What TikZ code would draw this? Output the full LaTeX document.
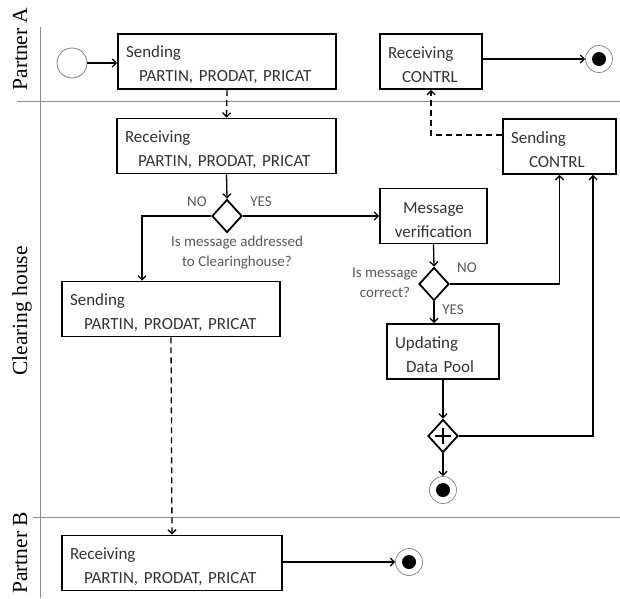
\documentclass[tikz,border=0pt]{standalone}
\usepackage{fontspec}
\setmainfont{Carlito}
\newfontfamily\lanefont{Liberation Serif}
\usetikzlibrary{shapes.geometric}
\usetikzlibrary{arrows.meta}
\tikzset{>={Straight Barb[length=4pt,width=8pt]}}
\tikzset{%
  box/.style={draw, line width=1.8pt, minimum height=55pt, inner xsep=8pt, inner ysep=0pt,
    align=left, text=black!80, font=\fontsize{17}{24}\selectfont,
    execute at begin node=\rule{0pt}{19pt}},
  decision/.style={diamond, draw, line width=1.8pt, minimum width=30pt, minimum height=33pt, inner sep=0pt},
  startdot/.style={circle, draw=black!50, line width=0.8pt, minimum size=30pt, inner sep=0pt},
  enddot/.style={circle, draw=black!50, line width=0.7pt, minimum size=27pt, inner sep=0pt,
    path picture={\fill[black] (path picture bounding box.center) circle (7pt);}},
  flow/.style={->, line width=1.3pt},
  msgflow/.style={->, line width=1.3pt, dash pattern=on 6pt off 4pt},
  note/.style={text=black!65, align=center, font=\fontsize{15}{20}\selectfont},
  lane/.style={rotate=90, anchor=base, font=\lanefont\fontsize{21.5}{24}\selectfont},
  laneline/.style={draw=black!45, line width=0.8pt}
}
\begin{document}
\begin{tikzpicture}[x=1pt, y=-1pt]

  \useasboundingbox (0,0) rectangle (620,598);

  % swim lanes
  \draw[laneline] (40,27) -- (40,598);
  \draw[laneline] (17,101) -- (620,101);
  \draw[laneline] (33,517) -- (620,517);
  \node[lane] (laneA) at (27,49) {Partner A};
  \node[lane] (laneCH) at (27,311) {Clearing house};
  \node[lane] (laneB) at (27,553) {Partner B};

  % partner A
  \node[startdot] (start) at (72,63) {};
  \node[box, text width=202pt] (sendA) at (227,61.5) {Sending\\\hspace*{13pt}PARTIN, PRODAT, PRICAT};
  \node[box, text width=86pt] (recvCtrl) at (431,61.5) {Receiving\\\hspace*{14pt}CONTRL};
  \node[enddot] (endA) at (599,59) {};

  % clearing house
  \node[box, text width=203pt] (recvCH) at (226.5,146) {Receiving\\\hspace*{13pt}PARTIN, PRODAT, PRICAT};
  \node[box, text width=97pt] (sendCtrl) at (559.5,146.5) {Sending\\\hspace*{18pt}CONTRL};
  \node[decision] (dia1) at (227,216) {};
  \node[box, text width=91pt, align=center] (msgVer) at (433.5,216) {Message\\verification};
  \node[box, text width=202pt] (sendCH) at (171,309) {Sending\\\hspace*{14pt}PARTIN, PRODAT, PRICAT};
  \node[decision] (dia2) at (434,284) {};
  \node[box, text width=96pt] (update) at (443,351.5) {Updating\\\hspace*{11pt}Data Pool};
  \node[decision] (plus) at (443,436) {};
  \draw[line width=2pt] (plus.center) ++(-8,0) -- ++(16,0) (plus.center) ++(0,-8) -- ++(0,16);
  \node[enddot] (endCH) at (443,490) {};

  % labels at the decisions
  \node[note] (no1) at (197,202) {NO};
  \node[note] (yes1) at (261,202) {YES};
  \node[note] (ask1) at (237,253) {Is message addressed\\to Clearinghouse?};
  \node[note] (no2) at (467,268) {NO};
  \node[note] (yes2) at (453,310) {YES};
  \node[note] (ask2) at (385,283) {Is message\\correct?};

  % partner B
  \node[box, text width=204pt] (recvB) at (172,563) {Receiving\\\hspace*{14pt}PARTIN, PRODAT, PRICAT};
  \node[enddot] (endB) at (409,562) {};

  % sequence flows
  \draw[flow] (start.east) -- (start.east -| sendA.west);
  \draw[flow] (recvCtrl.east |- endA) -- (endA.west);
  \draw[flow] (recvCH.south) -- (dia1.north);
  \draw[flow] (dia1.west) -| ([xshift=-29pt]sendCH.north);
  \draw[flow] (dia1.east) -- (msgVer.west);
  \draw[flow] (msgVer.south) -- (dia2.north);
  \draw[flow] (dia2.east) -| (sendCtrl.south);
  \draw[flow] (dia2.south) -- (dia2.south |- update.north);
  \draw[flow] (update.south) -- (plus.north);
  \draw[flow] (plus.east) -| ([xshift=33.5pt]sendCtrl.south);
  \draw[flow] (plus.south) -- (endCH.north);
  \draw[flow] (recvB.east |- endB) -- (endB.west);

  % message flows
  \draw[msgflow] (sendA.south) -- (recvCH.north);
  \draw[msgflow] ([yshift=11.5pt]sendCtrl.west) -| (recvCtrl.south);
  \draw[msgflow] (sendCH.south) -- (recvB.north);

\end{tikzpicture}
\end{document}
